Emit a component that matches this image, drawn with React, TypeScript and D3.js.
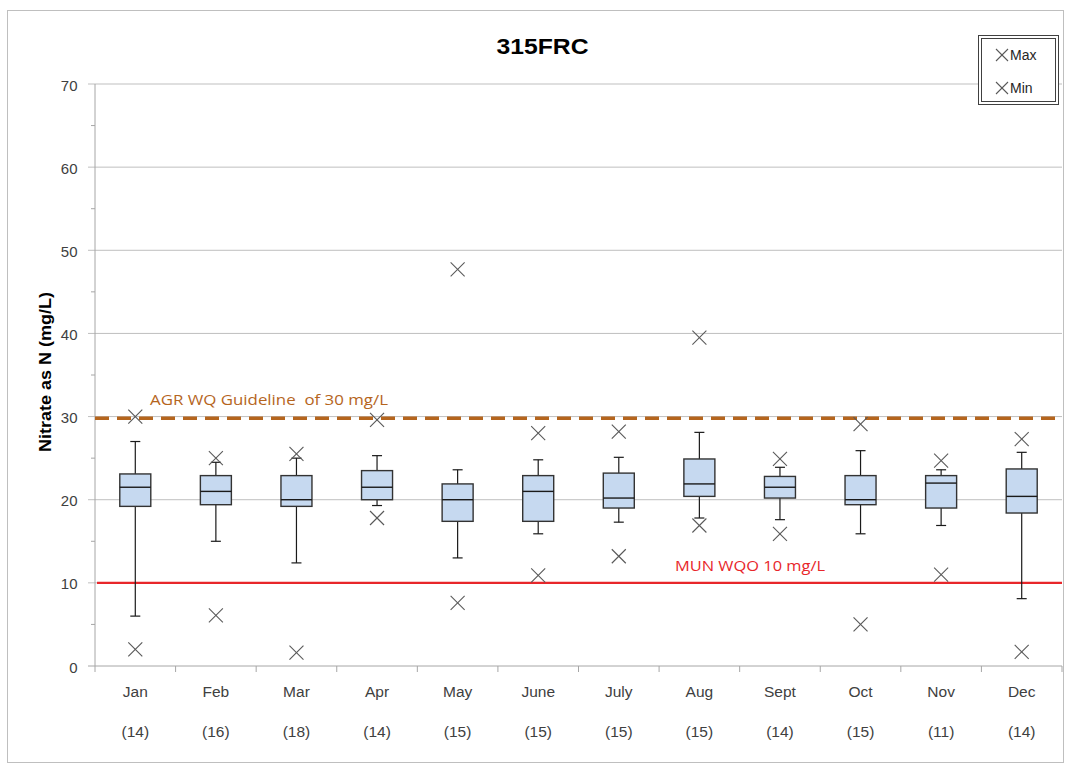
import React from "react";
import * as d3 from "d3";

const months = ["Jan", "Feb", "Mar", "Apr", "May", "June", "July", "Aug", "Sept", "Oct", "Nov", "Dec"];
const counts = [14, 16, 18, 14, 15, 15, 15, 15, 14, 15, 11, 14];
const q1 = [19.2, 19.4, 19.2, 20.0, 17.4, 17.4, 19.0, 20.4, 20.2, 19.4, 19.0, 18.4];
const medians = [21.5, 21.0, 20.0, 21.5, 20.0, 21.0, 20.2, 21.9, 21.5, 20.0, 22.0, 20.4];
const q3 = [23.1, 22.9, 22.9, 23.5, 21.9, 22.9, 23.2, 24.9, 22.8, 22.9, 22.9, 23.7];
const whiskerLow = [6.0, 15.0, 12.4, 19.3, 13.0, 15.9, 17.3, 17.8, 17.6, 15.9, 16.9, 8.1];
const whiskerHigh = [27.0, 24.5, 25.0, 25.3, 23.6, 24.8, 25.1, 28.1, 23.9, 25.9, 23.6, 25.7];
const maxVals = [30.0, 25.0, 25.5, 29.6, 47.7, 28.0, 28.2, 39.5, 24.9, 29.1, 24.7, 27.3];
const minVals = [2.0, 6.1, 1.6, 17.8, 7.6, 10.9, 13.2, 16.9, 15.9, 5.0, 11.0, 1.7];
const yTicks = [0, 10, 20, 30, 40, 50, 60, 70];
const minorTicks = [5, 15, 25, 35, 45, 55, 65];
const agrValue = 29.8;
const munValue = 10;

const W = 1066;
const H = 764;
const left = 95;
const right = 1062;
const top = 84;
const bottom = 666;

const sans = "'Liberation Sans', Arial, sans-serif";
const open = "'Open Sans', 'Liberation Sans', Arial, sans-serif";

function XMark({ cx, cy, s = 7 }: { cx: number; cy: number; s?: number }) {
  return (
    <g stroke="#595959" strokeWidth={1.1}>
      <line x1={cx - s} y1={cy - s} x2={cx + s} y2={cy + s} />
      <line x1={cx - s} y1={cy + s} x2={cx + s} y2={cy - s} />
    </g>
  );
}

export default function App() {
  const y = d3.scaleLinear().domain([0, 70]).range([bottom, top]);
  const x = d3.scaleBand<string>().domain(months).range([left, right]).paddingInner(0).paddingOuter(0);
  const bw = x.bandwidth();
  const boxW = 31;
  const capW = 10;

  return (
    <svg width={W} height={H} style={{ position: "absolute", left: 0, top: 0, background: "#fff" }}>
      <rect x={7.5} y={10.5} width={1056} height={752} fill="#fff" stroke="#bfbfbf" strokeWidth={1} />
      <text x={542.5} y={53.5} textAnchor="middle" fontFamily={sans} fontWeight="bold" fontSize={22} textLength={92} lengthAdjust="spacingAndGlyphs" fill="#000">
        315FRC
      </text>

      {/* gridlines */}
      {yTicks.map((t) => (
        <line key={"g" + t} x1={left - 7} x2={right} y1={y(t)} y2={y(t)} stroke={t === 0 ? "#a6a6a6" : "#bfbfbf"} strokeWidth={1} />
      ))}
      {minorTicks.map((t) => (
        <line key={"m" + t} x1={left - 4} x2={left} y1={y(t)} y2={y(t)} stroke="#a6a6a6" strokeWidth={1} />
      ))}
      <line x1={left} x2={left} y1={top} y2={bottom} stroke="#a6a6a6" strokeWidth={1} />
      {yTicks.map((t) => (
        <text key={"yl" + t} x={77.5} y={y(t) + 6.5} textAnchor="end" fontFamily={sans} fontSize={15} fill="#404040">
          {t}
        </text>
      ))}

      {/* x ticks */}
      {months.map((m, i) => (
        <line key={"xt" + m} x1={left + i * bw} x2={left + i * bw} y1={bottom} y2={bottom + 6} stroke="#a6a6a6" />
      ))}
      <line x1={right} x2={right} y1={bottom} y2={bottom + 6} stroke="#a6a6a6" />
      {months.map((m, i) => (
        <g key={"xl" + m}>
          <text x={(x(m) as number) + bw / 2} y={697} textAnchor="middle" fontFamily={sans} fontSize={15.5} fill="#404040">
            {m}
          </text>
          <text x={(x(m) as number) + bw / 2} y={737} textAnchor="middle" fontFamily={sans} fontSize={15.5} fill="#404040">
            ({counts[i]})
          </text>
        </g>
      ))}

      {/* reference lines */}
      <line x1={left} x2={right - 2} y1={y(agrValue)} y2={y(agrValue)} stroke="#b5651d" strokeWidth={3.5} strokeDasharray="14 8" />
      <text x={150} y={405} fontFamily={open} fontSize={15} fill="#b5651d" textLength={238} lengthAdjust="spacingAndGlyphs" style={{ whiteSpace: "pre" }}>
        {"AGR WQ Guideline  of 30 mg/L"}
      </text>
      <line x1={97} x2={right} y1={y(munValue)} y2={y(munValue)} stroke="#e8262a" strokeWidth={2.2} />
      <text x={675} y={571} fontFamily={open} fontSize={15} fill="#e8262a" textLength={150} lengthAdjust="spacingAndGlyphs">
        MUN WQO 10 mg/L
      </text>

      {/* boxes */}
      {months.map((m, i) => {
        const cx = (x(m) as number) + bw / 2;
        return (
          <g key={"b" + m}>
            <line x1={cx} x2={cx} y1={y(whiskerHigh[i])} y2={y(q3[i])} stroke="#1a1a1a" strokeWidth={1.2} />
            <line x1={cx} x2={cx} y1={y(q1[i])} y2={y(whiskerLow[i])} stroke="#1a1a1a" strokeWidth={1.2} />
            <line x1={cx - capW / 2} x2={cx + capW / 2} y1={y(whiskerHigh[i])} y2={y(whiskerHigh[i])} stroke="#1a1a1a" strokeWidth={1.2} />
            <line x1={cx - capW / 2} x2={cx + capW / 2} y1={y(whiskerLow[i])} y2={y(whiskerLow[i])} stroke="#1a1a1a" strokeWidth={1.2} />
            <rect x={cx - boxW / 2} y={y(q3[i])} width={boxW} height={y(q1[i]) - y(q3[i])} fill="#c6d9f0" stroke="#333" strokeWidth={1.4} />
            <line x1={cx - boxW / 2} x2={cx + boxW / 2} y1={y(medians[i])} y2={y(medians[i])} stroke="#1a1a1a" strokeWidth={1.4} />
            <XMark cx={cx} cy={y(maxVals[i])} />
            <XMark cx={cx} cy={y(minVals[i])} />
          </g>
        );
      })}

      {/* legend */}
      <rect x={978.5} y={35.5} width={80} height={69} fill="#fff" stroke="#404040" strokeWidth={1} />
      <rect x={981.5} y={38.5} width={74} height={63} fill="none" stroke="#404040" strokeWidth={1} />
      <XMark cx={1002} cy={55} s={6} />
      <text x={1010} y={60} fontFamily={sans} fontSize={14} fill="#262626">Max</text>
      <XMark cx={1002} cy={88} s={6} />
      <text x={1010} y={93} fontFamily={sans} fontSize={14} fill="#262626">Min</text>

      <text transform={`translate(51,372) rotate(-90)`} textAnchor="middle" fontFamily={sans} fontWeight="bold" fontSize={16.5} textLength={160} lengthAdjust="spacingAndGlyphs" fill="#000">
        Nitrate as N (mg/L)
      </text>
    </svg>
  );
}
